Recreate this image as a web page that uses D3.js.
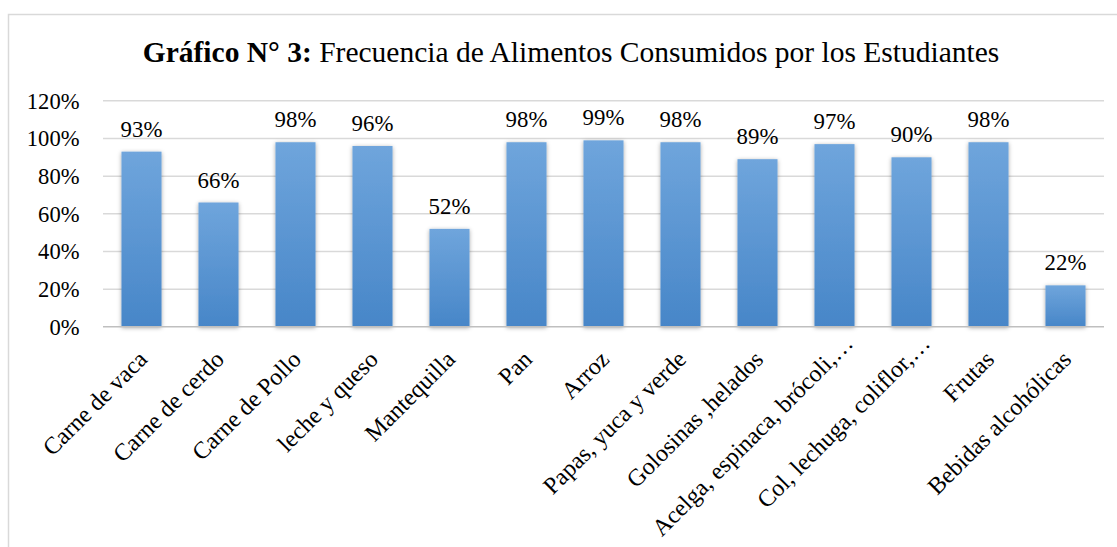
<!DOCTYPE html>
<html><head><meta charset="utf-8">
<script src="https://cdn.jsdelivr.net/npm/d3@7"></script>
<style>html,body{margin:0;padding:0;background:#fff;}svg{display:block;}</style>
</head><body>
<script>
const categories = ["Carne de vaca","Carne de cerdo","Carne de Pollo","leche y queso","Mantequilla","Pan","Arroz","Papas, yuca y verde","Golosinas ,helados","Acelga, espinaca, brócoli,…","Col, lechuga, coliflor,…","Frutas","Bebidas alcohólicas"];
const values = [0.93,0.66,0.98,0.96,0.52,0.98,0.99,0.98,0.89,0.97,0.90,0.98,0.22];
const yTicks = [0,0.2,0.4,0.6,0.8,1.0,1.2];
const titleBold = "Gráfico N° 3:";
const titleRest = " Frecuencia de Alimentos Consumidos por los Estudiantes";

const W = 1117, H = 547;
const font = "'Liberation Serif','Times New Roman',serif";
const svg = d3.select("body").append("svg").attr("width", W).attr("height", H);
const defs = svg.append("defs");
const grad = defs.append("linearGradient").attr("id","barGrad").attr("x1",0).attr("y1",0).attr("x2",0).attr("y2",1);
grad.append("stop").attr("offset","0%").attr("stop-color","#6fa5dc");
grad.append("stop").attr("offset","100%").attr("stop-color","#4786c8");
const filt = defs.append("filter").attr("id","shadow").attr("x","-30%").attr("y","-10%").attr("width","160%").attr("height","130%");
filt.append("feDropShadow").attr("dx",0).attr("dy",1).attr("stdDeviation",2.2).attr("flood-color","#000").attr("flood-opacity",0.35);

// frame
svg.append("rect").attr("x",8.5).attr("y",14.5).attr("width",W+20).attr("height",H+20)
  .attr("fill","none").attr("stroke","#d9d9d9").attr("stroke-width",1.5);

const x = d3.scaleBand().domain(categories).range([103,1104]).paddingInner(0.48).paddingOuter(0.24);
const y = d3.scaleLinear().domain([0,1.2]).range([326.8,100.8]);

// gridlines
svg.append("g").selectAll("line").data(yTicks.filter(d=>d>0)).join("line")
  .attr("x1",103).attr("x2",1104).attr("y1",d=>y(d)).attr("y2",d=>y(d))
  .attr("stroke","#d9d9d9").attr("stroke-width",1.5);

// y axis labels
const yAxis = d3.axisLeft(y).tickValues(yTicks).tickFormat(d3.format(".0%")).tickSize(0).tickPadding(0);
const yg = svg.append("g").attr("transform","translate(79.5,0)").call(yAxis);
yg.select(".domain").remove();
yg.selectAll("text").attr("font-family",font).attr("font-size",22.6).attr("fill","#000").attr("dy","0.32em");

// bars
svg.append("g").selectAll("rect").data(values).join("rect")
  .attr("x",(d,i)=>x(categories[i])).attr("width",x.bandwidth())
  .attr("y",d=>y(d)).attr("height",d=>y(0)-y(d))
  .attr("fill","url(#barGrad)").attr("filter","url(#shadow)");

// x axis line
svg.append("line").attr("x1",103).attr("x2",1104).attr("y1",y(0)).attr("y2",y(0))
  .attr("stroke","#bfbfbf").attr("stroke-width",1.5);

// data labels
svg.append("g").selectAll("text").data(values).join("text")
  .attr("x",(d,i)=>x(categories[i])+x.bandwidth()/2).attr("y",d=>y(d)-15)
  .attr("text-anchor","middle").attr("font-family",font).attr("font-size",22.8).attr("fill","#000")
  .text(d=>d3.format(".0%")(d));

// x labels
const xAxis = d3.axisBottom(x).tickSize(0).tickPadding(0);
const xg = svg.append("g").attr("transform",`translate(0,${y(0)})`).call(xAxis);
xg.select(".domain").remove();
xg.selectAll("text").attr("font-family",font).attr("font-size",24).attr("fill","#000")
  .attr("text-anchor","end").attr("dy",null).attr("y",null)
  .attr("transform",d=> d.endsWith("…") ? "translate(20,18) rotate(-45)" : "translate(7,34) rotate(-45)");

// title
const t = svg.append("text").attr("x",571).attr("y",62).attr("text-anchor","middle")
  .attr("font-family",font).attr("font-size",29.5).attr("fill","#000");
t.append("tspan").attr("font-weight","bold").text(titleBold);
t.append("tspan").text(titleRest);
</script>
</body></html>
